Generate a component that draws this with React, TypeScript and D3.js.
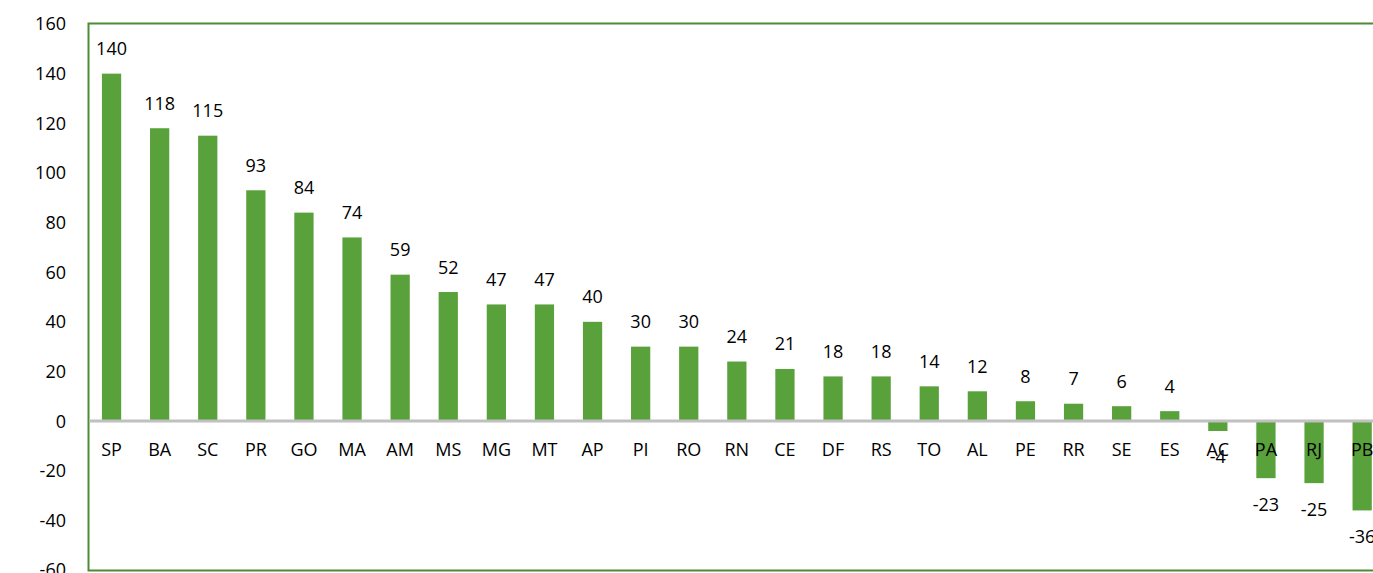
import React, { useEffect, useRef } from 'react';
import * as d3 from 'd3';

const states = ['SP', 'BA', 'SC', 'PR', 'GO', 'MA', 'AM', 'MS', 'MG', 'MT', 'AP', 'PI', 'RO', 'RN', 'CE', 'DF', 'RS', 'TO', 'AL', 'PE', 'RR', 'SE', 'ES', 'AC', 'PA', 'RJ', 'PB'];
const values = [140, 118, 115, 93, 84, 74, 59, 52, 47, 47, 40, 30, 30, 24, 21, 18, 18, 14, 12, 8, 7, 6, 4, -4, -23, -25, -36];
const yTicks = [-60, -40, -20, 0, 20, 40, 60, 80, 100, 120, 140, 160];

const W = 1373;
const H = 573;
const font = '"Open Sans", "Noto Sans", sans-serif';

export default function App() {
  const ref = useRef<SVGSVGElement>(null);

  useEffect(() => {
    document.body.style.margin = '0';
    const svg = d3.select(ref.current);
    svg.selectAll('*').remove();

    const left = 88.5;
    const step = 48.1;
    const x = d3.scaleBand<string>()
      .domain(states)
      .range([left, left + step * states.length])
      .paddingInner(0.6)
      .paddingOuter(0.3);
    const y = d3.scaleLinear().domain([-60, 160]).range([570, 24]);

    // plot area border
    svg.append('path')
      .attr('d', `M${W + 5},${y(160) - 0.5}H${left}V${y(-60) + 0.5}H${W + 5}`)
      .attr('fill', 'none')
      .attr('stroke', '#4f8a35')
      .attr('stroke-width', 2);

    // y tick labels
    svg.append('g')
      .selectAll('text')
      .data(yTicks)
      .join('text')
      .attr('x', 66)
      .attr('y', d => y(d))
      .attr('dy', '0.36em')
      .attr('text-anchor', 'end')
      .attr('font-family', font)
      .attr('font-size', 18)
      .attr('fill', '#000')
      .text(d => d);

    // bars
    svg.append('g')
      .selectAll('rect')
      .data(values)
      .join('rect')
      .attr('x', (d, i) => x(states[i])! - 1)
      .attr('width', x.bandwidth())
      .attr('y', d => y(Math.max(0, d)))
      .attr('height', d => Math.abs(y(d) - y(0)))
      .attr('fill', '#58a13b');

    // zero line
    svg.append('line')
      .attr('x1', left + 1)
      .attr('x2', W)
      .attr('y1', y(0))
      .attr('y2', y(0))
      .attr('stroke', '#c0c0c0')
      .attr('stroke-width', 3);

    // category labels
    svg.append('g')
      .selectAll('text')
      .data(states)
      .join('text')
      .attr('x', d => x(d)! + x.bandwidth() / 2 - 1)
      .attr('y', y(0) + 28)
      .attr('dy', '0.36em')
      .attr('text-anchor', 'middle')
      .attr('font-family', font)
      .attr('font-size', 18)
      .attr('fill', '#000')
      .text(d => d);

    // value labels
    svg.append('g')
      .selectAll('text')
      .data(values)
      .join('text')
      .attr('x', (d, i) => x(states[i])! + x.bandwidth() / 2 - 1)
      .attr('y', d => (d >= 0 ? y(d) - 25 : y(d) + 26))
      .attr('dy', '0.36em')
      .attr('text-anchor', 'middle')
      .attr('font-family', font)
      .attr('font-size', 18)
      .attr('fill', '#000')
      .text(d => d);
  }, []);

  return (
    <svg ref={ref} width={W} height={H} style={{ display: 'block', background: '#fff' }} />
  );
}
